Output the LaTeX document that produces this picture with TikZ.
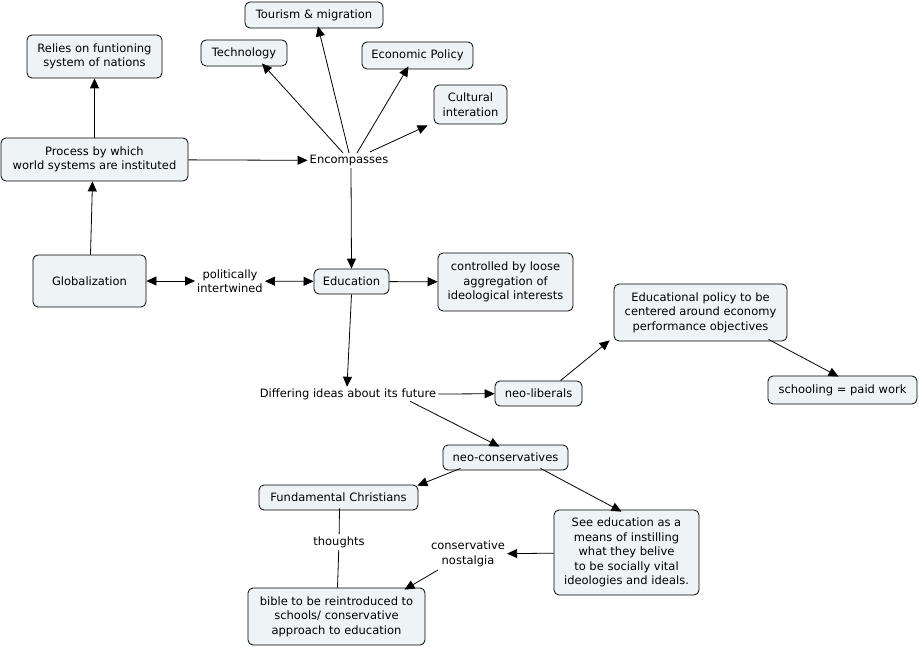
\documentclass[tikz,border=0pt]{standalone}
\usepackage{fontspec}
\setmainfont{DejaVu Sans}
\usetikzlibrary{arrows.meta}
\definecolor{boxfill}{HTML}{EEF3F5}
\tikzset{
  box/.style 2 args={draw=black, line width=0.8pt, fill=boxfill, rounded corners=5pt,
    align=center, minimum width=#1, minimum height=#2, inner sep=2pt,
    font=\fontsize{11.5}{14.5}\selectfont},
  lbl/.style={align=center, inner sep=2pt, font=\fontsize{11.5}{14.5}\selectfont},
  arr/.style={-{Triangle[length=10pt,width=9pt]}, line width=0.8pt},
  darr/.style={{Triangle[length=10pt,width=9pt]}-{Triangle[length=10pt,width=9pt]}, line width=0.8pt},
  ln/.style={line width=0.8pt}
}
\begin{document}
\begin{tikzpicture}[x=1pt,y=-1pt]
\useasboundingbox (0,0) rectangle (919,647);
\node[box={138pt}{26pt}] (tour) at (314,15) {Tourism \& migration};
\node[box={86pt}{26pt}] (tech) at (244,53) {Technology};
\node[box={135pt}{43pt}] (relies) at (94.5,56.5) {Relies on funtioning\\system of nations};
\node[box={111pt}{27pt}] (econ) at (417.5,55.5) {Economic Policy};
\node[box={73pt}{39pt}] (cult) at (470.5,104.5) {Cultural\\interation};
\node[box={187pt}{43pt}] (proc) at (94.5,159.5) {Process by which\\world systems are instituted};
\node[lbl] (enc) at (349,160.5) {Encompasses};
\node[box={113pt}{52pt}] (glob) at (89.5,281) {Globalization};
\node[lbl] (pol) at (230,281) {politically\\intertwined};
\node[box={75pt}{25pt}] (edu) at (351.5,281.5) {Education};
\node[box={135pt}{58pt}] (ctrl) at (505.5,282) {controlled by loose\\aggregation of\\ideological interests};
\node[box={173pt}{57pt}] (epol) at (700.5,312.5) {Educational policy to be\\centered around economy\\performance objectives};
\node[box={149pt}{28pt}] (school) at (842.5,390) {schooling = paid work};
\node[lbl] (diff) at (348,394.5) {Differing ideas about its future};
\node[box={87pt}{25pt}] (lib) at (538.5,393.5) {neo-liberals};
\node[box={125pt}{25pt}] (cons) at (505.5,457.5) {neo-conservatives};
\node[box={159pt}{25pt}] (fund) at (338.5,497.5) {Fundamental Christians};
\node[lbl] (thou) at (339,542) {thoughts};
\node[box={145pt}{85pt}] (see) at (626.5,552.5) {See education as a\\means of instilling\\what they belive\\to be socially vital\\ideologies and ideals.};
\node[lbl] (nost) at (468,554) {conservative\\nostalgia};
\node[box={177pt}{57pt}] (bible) at (336.5,616.5) {bible to be reintroduced to\\schools/ conservative\\approach to education};

\draw[arr] (proc) -- (relies);
\draw[arr] ([xshift=1pt]glob.north) -- ([xshift=-2pt]proc.south);
\draw[arr] (proc) -- (enc);
\draw[arr] ([xshift=-6pt]enc.north) -- ([xshift=18pt,yshift=3pt]tech.south);
\draw[arr] ([xshift=0pt]enc.north) -- ([xshift=4pt,yshift=2pt]tour.south);
\draw[arr] ([xshift=8pt]enc.north) -- ([xshift=-9pt,yshift=3pt]econ.south);
\draw[arr] ([xshift=21pt,yshift=1pt]enc.north) -- ([xshift=-6pt,yshift=-1pt]cult.south west);
\draw[arr] ([xshift=2pt]enc.south) -- (edu.north);
\draw[darr] (glob) -- (pol);
\draw[darr] (pol) -- (edu);
\draw[arr] (edu) -- (ctrl);
\draw[arr] (edu.south) -- ([xshift=-1pt]diff.north);
\draw[arr] (diff) -- (lib);
\draw[arr] ([xshift=22pt]lib.north) -- ([xshift=-4pt,yshift=1pt]epol.south west);
\draw[arr] ([xshift=68pt,yshift=2pt]epol.south) -- ([xshift=-4pt,yshift=-1pt]school.north);
\draw[arr] ([xshift=62pt,yshift=1pt]diff.south) -- ([xshift=-6pt,yshift=-2pt]cons.north);
\draw[arr] ([xshift=-45pt,yshift=2pt]cons.south) -- ([xshift=-1pt,yshift=-1pt]fund.north east);
\draw[arr] ([xshift=35pt,yshift=2pt]cons.south) -- ([xshift=-5pt,yshift=-2pt]see.north);
\draw[ln] ([xshift=1pt,yshift=2pt]fund.south) -- (thou);
\draw[ln] (thou) -- ([xshift=1pt]bible.north);
\draw[arr] (see) -- (nost);
\draw[arr] ([xshift=-30pt,yshift=-1pt]nost.south) -- ([xshift=68pt,yshift=-2pt]bible.north);
\end{tikzpicture}
\end{document}
